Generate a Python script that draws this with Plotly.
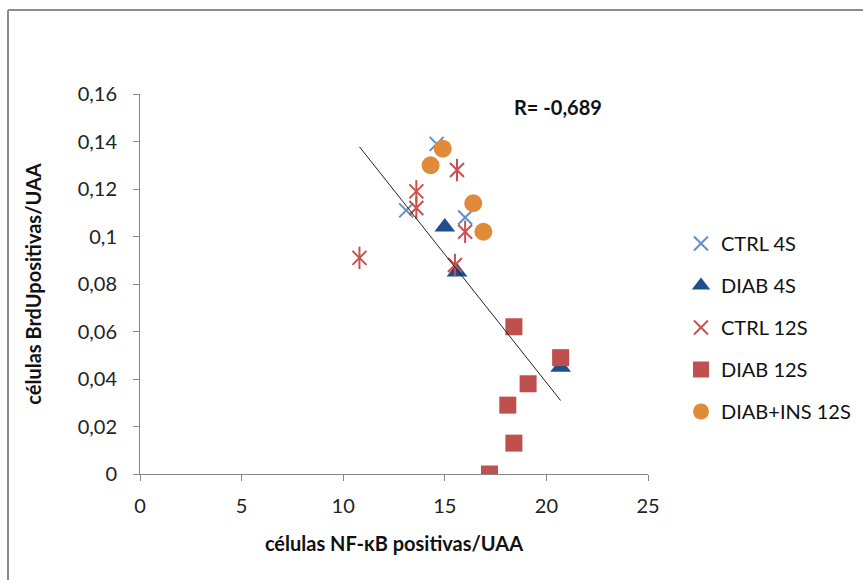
import numpy as np
import plotly.graph_objects as go

# Data
ctrl4_x = [14.6, 13.1, 16.0]
ctrl4_y = [0.139, 0.111, 0.108]
diab4_x = [15.0, 15.6, 20.7]
diab4_y = [0.104, 0.085, 0.045]
ctrl12_x = [15.6, 13.6, 13.6, 16.0, 10.8, 15.5]
ctrl12_y = [0.128, 0.119, 0.112, 0.102, 0.091, 0.088]
diab12_x = [18.4, 20.7, 19.1, 18.1, 18.4, 17.2]
diab12_y = [0.062, 0.049, 0.038, 0.029, 0.013, 0.0]
ins12_x = [14.9, 14.3, 16.4, 16.9]
ins12_y = [0.137, 0.130, 0.114, 0.102]

# Trendline as drawn in the reference (slope / intercept)
trend_slope = -0.01079
trend_intercept = 0.2543

x_ticks = [0, 5, 10, 15, 20, 25]
y_ticks = [0, 0.02, 0.04, 0.06, 0.08, 0.1, 0.12, 0.14, 0.16]
y_ticktext = ["0", "0,02", "0,04", "0,06", "0,08", "0,1", "0,12", "0,14", "0,16"]
r_label = "R= -0,689"
r_pos = (20.55, 0.1545)

FONT = "Lato, 'Liberation Sans', sans-serif"
FS = 20

fig = go.Figure()

fig.add_trace(go.Scatter(x=ctrl4_x, y=ctrl4_y, mode="markers", name="CTRL 4S",
                         legendgroup="a",
                         marker=dict(symbol="x-thin-open", size=14, color="#5B8FD0",
                                     line=dict(color="#5B8FD0", width=2))))
fig.add_trace(go.Scatter(x=diab4_x, y=diab4_y, mode="markers", name="DIAB 4S",
                         legendgroup="b",
                         marker=dict(symbol="triangle-up", size=18, color="#1F4E8A",
                                     line=dict(width=0))))
fig.add_trace(go.Scatter(x=ctrl12_x, y=ctrl12_y, mode="markers", name="CTRL 12S",
                         legendgroup="c", showlegend=False,
                         marker=dict(symbol="line-ns-open", size=16, color="#C9504D",
                                     line=dict(color="#C9504D", width=2))))
fig.add_trace(go.Scatter(x=ctrl12_x, y=ctrl12_y, mode="markers", name="CTRL 12S",
                         legendgroup="c",
                         marker=dict(symbol="x-thin-open", size=14, color="#C9504D",
                                     line=dict(color="#C9504D", width=2))))
fig.add_trace(go.Scatter(x=diab12_x, y=diab12_y, mode="markers", name="DIAB 12S",
                         legendgroup="d",
                         marker=dict(symbol="square", size=17, color="#C0504D",
                                     line=dict(width=0))))
fig.add_trace(go.Scatter(x=ins12_x, y=ins12_y, mode="markers", name="DIAB+INS 12S",
                         legendgroup="e",
                         marker=dict(symbol="circle", size=18, color="#E08A3A",
                                     line=dict(width=0))))

all_x = np.array(ctrl4_x + diab4_x + ctrl12_x + diab12_x + ins12_x)
tx = np.array([all_x.min(), all_x.max()])
fig.add_trace(go.Scatter(x=tx, y=trend_slope * tx + trend_intercept, mode="lines",
                         showlegend=False, line=dict(color="#222222", width=1)))

fig.add_annotation(x=r_pos[0], y=r_pos[1], xref="x", yref="y", text="<b>" + r_label + "</b>",
                   showarrow=False, font=dict(size=FS, color="#111111", family=FONT))

# Outer border of the chart frame (left and top)
L, R, T, B = 140, 648, 94, 474
def px_x(p):
    return (p - L) / (R - L)
def px_y(p):
    return (B - p) / (B - T)
fig.add_shape(type="line", xref="paper", yref="paper",
              x0=px_x(8), x1=px_x(8), y0=px_y(10), y1=px_y(600),
              line=dict(color="#8C8C8C", width=2))
fig.add_shape(type="line", xref="paper", yref="paper",
              x0=px_x(8), x1=px_x(900), y0=px_y(10), y1=px_y(10),
              line=dict(color="#8C8C8C", width=2))

fig.update_layout(
    width=863, height=580,
    margin=dict(l=L, r=863 - R, t=T, b=580 - B, pad=0, autoexpand=False),
    paper_bgcolor="white", plot_bgcolor="white",
    font=dict(family=FONT, size=FS, color="#222222"),
    legend=dict(x=px_x(681), y=px_y(224), xanchor="left", yanchor="top",
                font=dict(size=FS, family=FONT, color="#111111"),
                tracegroupgap=13, itemwidth=30, bgcolor="rgba(0,0,0,0)"),
    xaxis=dict(range=[0, 25], tickvals=x_ticks, ticktext=[str(v) for v in x_ticks],
               automargin=False,
               showgrid=False, zeroline=False, showline=True, linecolor="#868686",
               linewidth=1, ticks="outside", ticklen=6, tickcolor="#868686",
               ticklabelstandoff=8,
               title=dict(text="<b>células NF-κB positivas/UAA</b>", standoff=20,
                          font=dict(size=FS, family=FONT, color="#111111"))),
    yaxis=dict(range=[0, 0.16], tickvals=y_ticks, ticktext=y_ticktext,
               automargin=False,
               showgrid=False, zeroline=False, showline=True, linecolor="#868686",
               linewidth=1, ticks="outside", ticklen=6, tickcolor="#868686",
               ticklabelstandoff=12,
               title=dict(text="<b>células BrdUpositivas/UAA</b>", standoff=30,
                          font=dict(size=FS, family=FONT, color="#111111"))),
)

fig.write_html("out.html")
